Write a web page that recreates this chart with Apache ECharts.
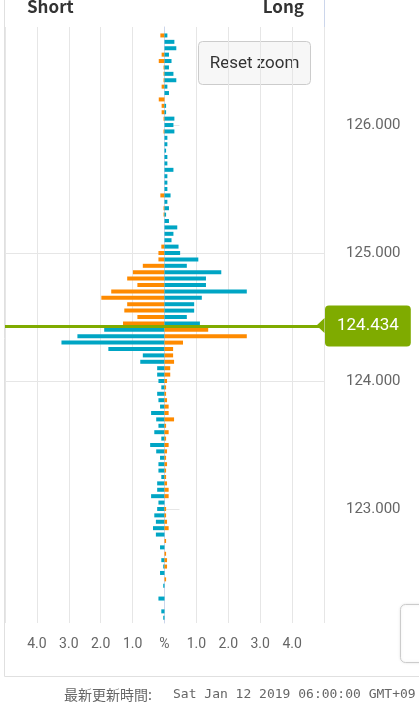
<!DOCTYPE html>
<html><head><meta charset="utf-8">
<script src="https://cdn.jsdelivr.net/npm/echarts@6/dist/echarts.min.js"></script>
<style>html,body{margin:0;padding:0;background:#fff;overflow:hidden}#c{width:419px;height:705px}</style>
</head><body><div id="c"></div>
<script>
// Price levels (top to bottom)
const prices = [
 126.70,126.65,126.60,126.55,126.50,126.45,126.40,126.35,126.30,126.25,
 126.20,126.15,126.10,126.05,126.00,125.95,125.90,125.85,125.80,125.75,
 125.70,125.65,125.60,125.55,125.50,125.45,125.40,125.35,125.30,125.25,
 125.20,125.15,125.10,125.05,125.00,124.95,124.90,124.85,124.80,124.75,
 124.70,124.65,124.60,124.55,124.50,124.45,124.40,124.35,124.30,124.25,
 124.20,124.15,124.10,124.05,124.00,123.95,123.90,123.85,123.80,123.75,
 123.70,123.65,123.60,123.55,123.50,123.45,123.40,123.35,123.30,123.25,
 123.20,123.15,123.10,123.05,123.00,122.95,122.90,122.85,122.80,122.75,
 122.70,122.65,122.60,122.55,122.50,122.45,122.40,122.35,122.30,122.25,
 122.20,122.15
];
// Short positions (%), drawn to the left
const shortPct = [
 0.13,0,0,0.09,0.18,0.03,0.03,0.03,0.09,0,
 0.18,0.09,0.09,0.03,0,0.03,0,0,0,0,
 0,0,0,0,0,0.13,0,0.03,0.03,0,
 0,0,0,0.10,0.19,0.19,0.68,0.99,1.17,0.85,
 1.67,1.98,1.17,1.26,0.85,1.30,1.89,2.73,3.23,1.76,
 0.68,0.76,0.23,0.23,0.19,0.10,0.23,0.19,0.14,0.42,
 0.26,0.19,0.32,0.10,0.45,0.26,0.14,0.19,0.19,0.10,
 0.23,0.23,0.42,0.19,0.23,0.32,0.27,0.36,0.27,0,
 0.14,0,0.10,0.04,0.14,0,0.04,0,0.19,0,
 0.10,0.04
];
// Long positions (%), drawn to the right
const longPct = [
 0.09,0.31,0.37,0.14,0.22,0.14,0.28,0.37,0.09,0.14,
 0,0.05,0.05,0.31,0.28,0.31,0.09,0.09,0.05,0.09,
 0.09,0.28,0.09,0.09,0.09,0.19,0.09,0.14,0.05,0.14,
 0.40,0.28,0.22,0.44,0.49,1.06,0.70,1.78,1.30,1.30,
 2.58,1.17,0.93,0.93,0.70,1.11,1.37,2.58,0.58,0.27,
 0.27,0.30,0.18,0.18,0.08,0.05,0.05,0.08,0.13,0.13,
 0.30,0.05,0.13,0.05,0.13,0.08,0.05,0.08,0.05,0.05,
 0.08,0.13,0.13,0,0.05,0.05,0.08,0.13,0,0.05,
 0,0.05,0.08,0.08,0,0.05,0,0,0,0,
 0,0
];
const currentPrice = 124.434;
const xTickLabels = ['4.0','3.0','2.0','1.0','%','1.0','2.0','3.0','4.0'];
const xTickValues = [-4,-3,-2,-1,0,1,2,3,4];
const headerLeft = 'Short', headerRight = 'Long';
const footerLabel = '最新更新時間:';
const footerTime = 'Sat Jan 12 2019 06:00:00 GMT+09';

const ORANGE = '#fe8a00', TEAL = '#00a5c4', GREEN = '#7fab00';

const chart = echarts.init(document.getElementById('c'), null, {renderer:'canvas'});
chart.setOption({
  animation: false,
  grid: {left: 5, right: 95, top: 27, bottom: 82},
  xAxis: {
    type: 'value', min: -5, max: 5, interval: 1,
    axisLine: {show: false}, axisTick: {show: false},
    splitLine: {show: true, lineStyle: {color: '#e6e6e6', width: 1}},
    axisLabel: {
      margin: 14, color: '#666', fontSize: 14, fontFamily: 'Roboto',
      formatter: v => { const i = xTickValues.indexOf(v); return i < 0 ? '' : xTickLabels[i]; }
    }
  },
  yAxis: {
    type: 'value', position: 'right', min: 122.109, max: 126.766,
    axisLine: {show: true, lineStyle: {color: '#ccd6eb', width: 1}},
    axisTick: {show: true, length: 15, lineStyle: {color: '#e6e6e6'}, customValues: [123,124,125,126]},
    splitLine: {show: true, showMinLine: false, showMaxLine: false, lineStyle: {color: '#e6e6e6', width: 1}},
    axisLabel: {
      margin: 22, color: '#666', fontSize: 15, fontFamily: 'Roboto',
      showMinLabel: false, showMaxLabel: false,
      formatter: v => v.toFixed(3)
    }
  },
  series: [{
    type: 'custom',
    data: prices.map((p, i) => [p, shortPct[i], longPct[i]]),
    encode: {y: 0, x: [1, 2]},
    clip: false,
    renderItem: function (params, api) {
      const p = api.value(0), s = api.value(1), l = api.value(2);
      const c0 = api.coord([0, p]);
      const xs = api.coord([-s, p])[0];
      const xl = api.coord([l, p])[0];
      const h = 4, y = c0[1] - h / 2;
      const above = p > currentPrice;
      const children = [];
      if (s > 0) children.push({type: 'rect', shape: {x: xs, y: y, width: c0[0] - xs, height: h}, style: {fill: above ? ORANGE : TEAL}});
      if (l > 0) children.push({type: 'rect', shape: {x: c0[0], y: y, width: xl - c0[0], height: h}, style: {fill: above ? TEAL : ORANGE}});
      return {type: 'group', children: children};
    },
    markLine: {
      silent: true, symbol: 'none', animation: false,
      lineStyle: {color: GREEN, width: 3, type: 'solid'},
      label: {
        show: true, position: 'end', distance: 1,
        formatter: () => currentPrice.toFixed(3),
        backgroundColor: GREEN, color: '#fff', fontSize: 17, fontFamily: 'Roboto',
        padding: [12, 12, 12, 12], borderRadius: 4
      },
      data: [{yAxis: currentPrice}]
    },
    markPoint: {
      silent: true, animation: false,
      symbol: 'triangle', symbolSize: [15, 8], symbolRotate: 90, symbolOffset: [-3.5, 0],
      itemStyle: {color: GREEN}, label: {show: false},
      data: [{coord: [5, currentPrice]}]
    }
  }],
  graphic: [
    {type: 'line', shape: {x1: 4.5, y1: 0, x2: 4.5, y2: 676.5}, style: {stroke: '#e0e0e0', lineWidth: 1}, silent: true},
    {type: 'line', shape: {x1: 4.5, y1: 676.5, x2: 419, y2: 676.5}, style: {stroke: '#e0e0e0', lineWidth: 1}, silent: true},
    {type: 'line', shape: {x1: 324.5, y1: 0, x2: 324.5, y2: 27}, style: {stroke: '#ccd6eb', lineWidth: 1}, silent: true},
    {type: 'text', x: 27, y: 7, style: {text: headerLeft, font: 'bold 17px "Noto Sans CJK JP"', fill: '#333', verticalAlign: 'middle'}},
    {type: 'text', x: 304, y: 7, style: {text: headerRight, font: 'bold 17px "Noto Sans CJK JP"', fill: '#333', align: 'right', verticalAlign: 'middle'}},
    {type: 'group', left: 198, top: 41, children: [
      {type: 'rect', shape: {x: 0.5, y: 0.5, width: 112, height: 43, r: 4}, style: {fill: '#f7f7f7', stroke: '#cccccc', lineWidth: 1}},
      {type: 'text', x: 56.5, y: 22.5, style: {text: 'Reset zoom', font: '17px Roboto', fill: '#333', align: 'center', verticalAlign: 'middle'}}
    ]},
    {type: 'rect', shape: {x: 400.5, y: 604.5, width: 30, height: 58, r: 5}, style: {fill: '#fff', stroke: '#cccccc', lineWidth: 1, shadowBlur: 3, shadowColor: 'rgba(0,0,0,0.1)'}},
    {type: 'text', x: 64, y: 695, style: {text: footerLabel, font: '14px "Noto Sans CJK JP"', fill: '#666', verticalAlign: 'middle'}},
    {type: 'text', x: 173, y: 695, style: {text: footerTime, font: '13px "DejaVu Sans Mono"', fill: '#666', verticalAlign: 'middle'}}
  ]
});
</script></body></html>
